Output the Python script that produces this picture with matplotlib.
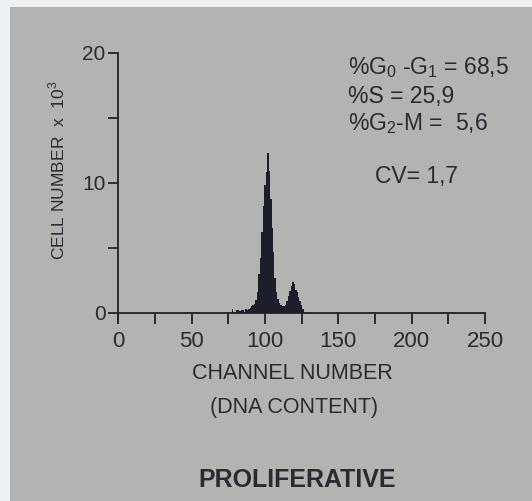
import numpy as np
import matplotlib
matplotlib.use("Agg")
import matplotlib.pyplot as plt
from matplotlib.patches import Rectangle

plt.rcParams["font.family"] = ["Liberation Sans", "DejaVu Sans"]
plt.rcParams["mathtext.fontset"] = "custom"
plt.rcParams["mathtext.rm"] = "Liberation Sans"

# DNA histogram (cell number x 10^3 per channel)
channels = list(range(78, 129))
counts = [
    0.3, 0.1, 0.0, 0.25, 0.2, 0.15, 0.2, 0.25, 0.1, 0.3,   # 78-87
    0.2, 0.3, 0.4, 0.5, 0.6, 0.7, 1.0, 1.6, 3.0, 4.2,      # 88-97
    6.2, 8.2, 9.8, 10.8, 12.3, 10.9, 8.8, 6.5, 4.7, 2.7,   # 98-107
    1.6, 1.1, 0.8, 0.6, 0.5, 0.5, 0.6, 0.9, 1.3, 1.7,      # 108-117
    2.1, 2.4, 2.2, 1.8, 1.6, 1.2, 0.9, 0.6, 0.3, 0.1,      # 118-127
    0.0,                                                   # 128
]
x_major = [0, 50, 100, 150, 200, 250]
x_minor = [25, 75, 125, 175, 225]
y_major = [0, 10, 20]
y_minor = [5, 15]

stats = ["%G$_{\\mathrm{0}}$ -G$_{\\mathrm{1}}$ = 68,5", "%S = 25,9", "%G$_{\\mathrm{2}}$-M =  5,6"]
cv_text = "CV= 1,7"

paper = "#b3b4b1"
ink = "#1c1f2b"
txt = "#2a2b32"

fig = plt.figure(figsize=(5.32, 5.01), dpi=100)
fig.patch.set_facecolor("#eef1f4")
fig.add_artist(Rectangle((10 / 532, 0), 1, 494 / 501, transform=fig.transFigure,
                         facecolor=paper, edgecolor="none", zorder=-10))

ax = fig.add_axes([0.222, 0.3636, 0.690, 0.531])
ax.set_facecolor("none")
ax.bar(channels, counts, width=1.0, color=ink, linewidth=0)

ax.set_xlim(0, 250)
ax.set_ylim(-0.45, 20)
for s in ["top", "right"]:
    ax.spines[s].set_visible(False)
ax.spines["bottom"].set_position(("data", 0))
ax.spines["left"].set_bounds(-0.45, 20)
for s in ["bottom", "left"]:
    ax.spines[s].set_linewidth(1.3)
    ax.spines[s].set_color("#202128")

ax.set_xticks(x_major)
ax.set_xticks(x_minor, minor=True)
ax.set_yticks(y_major)
ax.set_yticks(y_minor, minor=True)
ax.tick_params(axis="x", which="both", direction="out", length=8, width=1.3,
               color="#202128", labelsize=16, labelcolor=txt, pad=5)
ax.tick_params(axis="y", which="both", direction="out", length=7, width=1.3,
               color="#202128", labelsize=15, labelcolor=txt, pad=2)

fig.text(0.107, 0.661, "CELL NUMBER  x  10$^{\\mathrm{3}}$", rotation=90,
         ha="center", va="center", fontsize=12.5, color=txt)
fig.text(0.549, 0.255, "CHANNEL NUMBER", ha="center", va="center", fontsize=15.5, color=txt)
fig.text(0.553, 0.186, "(DNA CONTENT)", ha="center", va="center", fontsize=15.5, color=txt)
fig.text(0.558, 0.042, "PROLIFERATIVE", ha="center", va="center", fontsize=18,
         fontweight="bold", color=txt)

for i, line in enumerate(stats):
    fig.text(348 / 532, (501 - 68 - 28 * i) / 501, line, ha="left", va="center",
             fontsize=16.5, color=txt)
fig.text(375 / 532, (501 - 177) / 501, cv_text, ha="left", va="center",
         fontsize=16.5, color=txt)

fig.savefig("out.png", dpi=100, facecolor=fig.get_facecolor())
